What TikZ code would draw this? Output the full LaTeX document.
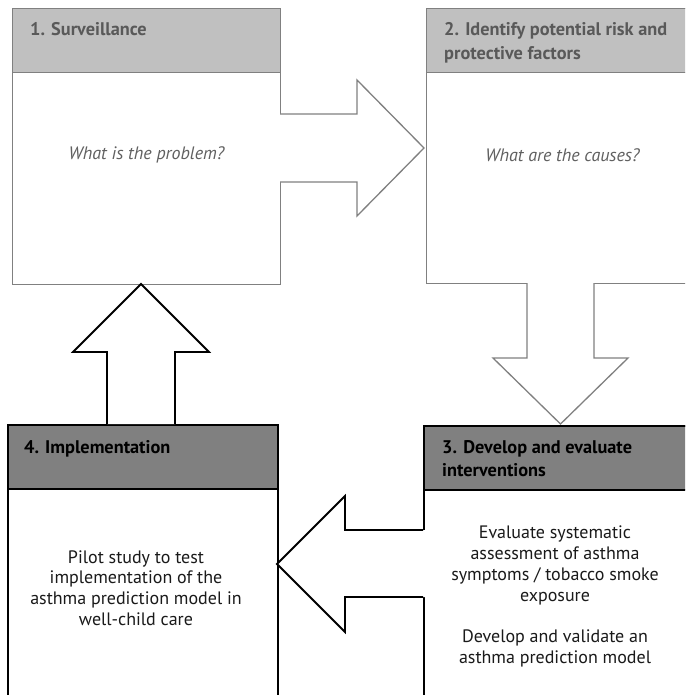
\documentclass[tikz,border=0pt]{standalone}
\usepackage{fontspec}
\setmainfont{PT Sans}
\definecolor{lgray}{HTML}{C0C0C0}
\definecolor{mgray}{HTML}{808080}
\definecolor{hdrtxt}{HTML}{595959}
\definecolor{itxt}{HTML}{606060}
\definecolor{btxt}{HTML}{1A1A1A}
\begin{document}
\begin{tikzpicture}[x=1pt,y=-1pt,
  graybody/.style={draw=mgray, line width=1.3pt, fill=white, inner sep=0pt, anchor=north west},
  grayhdr/.style={draw=mgray, line width=1.3pt, fill=lgray, inner sep=0pt, anchor=north west},
  blackbody/.style={draw=black, line width=1.8pt, fill=white, inner sep=0pt, anchor=north west},
  blackhdr/.style={draw=black, line width=1.8pt, fill=mgray, inner sep=0pt, anchor=north west},
  hdrtext/.style={font=\bfseries\fontsize{18.3}{23}\selectfont, anchor=base west, inner sep=0pt},
  qtext/.style={font=\itshape\fontsize{18}{20}\selectfont, text=itxt, inner sep=0pt},
  bodytext/.style={font=\fontsize{18}{20.7}\selectfont, text=btxt, align=center, inner sep=0pt},
  grayarrow/.style={draw=mgray, line width=1.3pt, line join=miter},
  blackarrow/.style={draw=black, line width=1.8pt, line join=miter}]
\clip (0,0) rectangle (685,695);
\fill[white] (0,0) rectangle (685,695);
% box 1
\node[graybody, minimum width=268pt, minimum height=276pt] (b1) at (12,8) {};
\node[grayhdr, minimum width=268pt, minimum height=64pt] (h1) at (12,8) {};
% box 2
\node[graybody, minimum width=280pt, minimum height=275pt] (b2) at (426,8) {};
\node[grayhdr, minimum width=280pt, minimum height=64pt] (h2) at (426,8) {};
% box 3
\node[blackbody, minimum width=280pt, minimum height=300pt] (b3) at (423,425) {};
\node[blackhdr, minimum width=280pt, minimum height=64pt] (h3) at (423,425) {};
% box 4
\node[blackbody, minimum width=270pt, minimum height=300pt] (b4) at (7,424) {};
\node[blackhdr, minimum width=270pt, minimum height=64pt] (h4) at (7,424) {};

% arrow 1 -> 2
\fill[white] (278,114) -- (357,114) -- (357,80) -- (424,148) -- (357,216) -- (357,182) -- (278,182) -- cycle;
\draw[grayarrow] (280,114) -- (357,114) -- (357,80) -- (424,148) -- (357,216) -- (357,182) -- (280,182);
% arrow 2 -> 3
\fill[white] (527,281) -- (527,358) -- (493,358) -- (560.5,424) -- (628,358) -- (594,358) -- (594,281) -- cycle;
\draw[grayarrow] (527,283) -- (527,358) -- (493,358) -- (560.5,424) -- (628,358) -- (594,358) -- (594,283);
% arrow 4 -> 1
\fill[white] (107,424) -- (107,352) -- (73,352) -- (141,284) -- (209,352) -- (175,352) -- (175,424) -- cycle;
\draw[blackarrow] (107,424) -- (107,352) -- (73,352) -- (141,284) -- (209,352) -- (175,352) -- (175,424);
% arrow 3 -> 4
\fill[white] (425,530) -- (345,530) -- (345,496) -- (277,564) -- (345,632) -- (345,597) -- (425,597) -- cycle;
\draw[blackarrow] (423,530) -- (345,530) -- (345,496) -- (277,564) -- (345,632) -- (345,597) -- (423,597);

% header texts
\node[hdrtext, text=hdrtxt] (t1) at (30,36) {1. Surveillance};
\node[hdrtext, text=hdrtxt] (t2a) at (444,36) {2. Identify potential risk and};
\node[hdrtext, text=hdrtxt] (t2b) at (444,59.5) {protective factors};
\node[hdrtext, text=black] (t3a) at (442,453) {3. Develop and evaluate};
\node[hdrtext, text=black] (t3b) at (442,476.5) {interventions};
\node[hdrtext, text=black] (t4) at (24,453) {4. Implementation};

% body texts
\node[qtext] (q1) at (146.5,155) {What is the problem?};
\node[qtext] (q2) at (562.5,155) {What are the causes?};
\node[bodytext] (p4) at (136,588) {Pilot study to test\\implementation of the\\asthma prediction model in\\well-child care};
\node[bodytext] (p3) at (555,596.5) {Evaluate systematic\\assessment of asthma\\symptoms / tobacco smoke\\exposure\\[20.7pt]Develop and validate an\\asthma prediction model};
\end{tikzpicture}
\end{document}
